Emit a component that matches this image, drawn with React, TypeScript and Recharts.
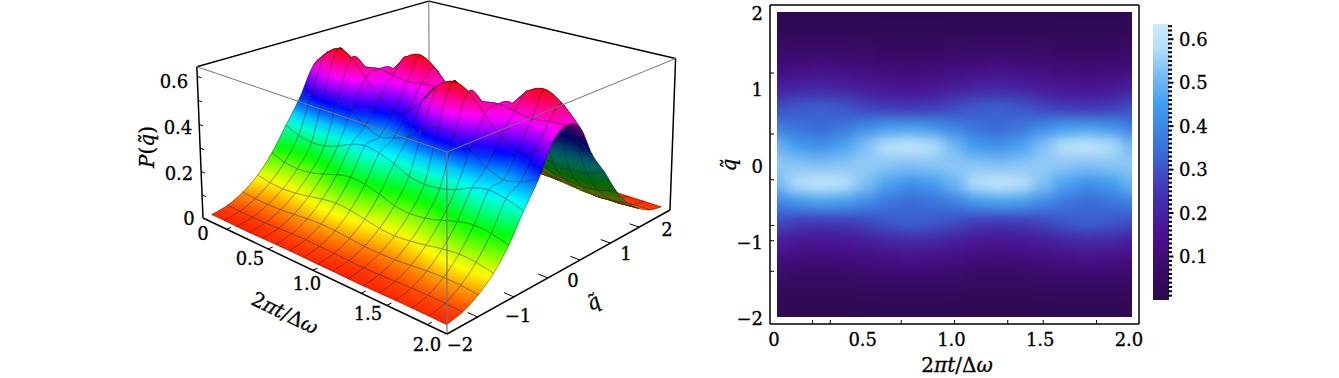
import React from 'react';
import { ScatterChart, Scatter, XAxis, YAxis, BarChart, Bar } from 'recharts';

// grid of the distribution
const tValues = [0, 0.125, 0.25, 0.375, 0.5, 0.625, 0.75, 0.875, 1, 1.125, 1.25, 1.375, 1.5, 1.625, 1.75, 1.875, 2];
const qValues = [-2, -1.75, -1.5, -1.25, -1, -0.75, -0.5, -0.25, 0, 0.25, 0.5, 0.75, 1, 1.25, 1.5, 1.75, 2];

const pQm200 = [0.014, 0.014, 0.013, 0.013, 0.014, 0.015, 0.015, 0.015, 0.014, 0.014, 0.013, 0.013, 0.014, 0.015, 0.015, 0.015, 0.014];
const pQm175 = [0.028, 0.026, 0.025, 0.026, 0.028, 0.031, 0.032, 0.031, 0.029, 0.026, 0.025, 0.026, 0.028, 0.031, 0.032, 0.031, 0.028];
const pQm150 = [0.06, 0.055, 0.053, 0.055, 0.06, 0.066, 0.069, 0.067, 0.061, 0.055, 0.053, 0.055, 0.06, 0.066, 0.069, 0.067, 0.06];
const pQm125 = [0.11, 0.1, 0.095, 0.1, 0.11, 0.122, 0.129, 0.124, 0.112, 0.1, 0.095, 0.1, 0.11, 0.122, 0.129, 0.124, 0.11];
const pQm100 = [0.185, 0.165, 0.158, 0.164, 0.18, 0.2, 0.212, 0.205, 0.188, 0.165, 0.158, 0.164, 0.18, 0.2, 0.212, 0.205, 0.186];
const pQm075 = [0.285, 0.26, 0.25, 0.256, 0.275, 0.305, 0.32, 0.31, 0.288, 0.26, 0.25, 0.256, 0.275, 0.305, 0.32, 0.31, 0.288];
const pQm050 = [0.385, 0.43, 0.455, 0.445, 0.405, 0.36, 0.335, 0.35, 0.375, 0.43, 0.455, 0.445, 0.405, 0.36, 0.335, 0.35, 0.38];
const pQm025 = [0.51, 0.58, 0.618, 0.595, 0.525, 0.46, 0.42, 0.44, 0.5, 0.58, 0.618, 0.595, 0.525, 0.46, 0.42, 0.44, 0.5];
const pQ000 = [0.54, 0.535, 0.525, 0.535, 0.545, 0.535, 0.525, 0.535, 0.54, 0.535, 0.525, 0.535, 0.545, 0.535, 0.525, 0.535, 0.54];
const pQ025 = [0.5, 0.44, 0.42, 0.46, 0.525, 0.595, 0.618, 0.58, 0.51, 0.44, 0.42, 0.46, 0.525, 0.595, 0.618, 0.58, 0.51];
const pQ050 = [0.375, 0.35, 0.335, 0.36, 0.405, 0.445, 0.455, 0.43, 0.385, 0.35, 0.335, 0.36, 0.405, 0.445, 0.455, 0.43, 0.38];
const pQ075 = [0.288, 0.31, 0.32, 0.305, 0.275, 0.256, 0.25, 0.26, 0.285, 0.31, 0.32, 0.305, 0.275, 0.256, 0.25, 0.26, 0.288];
const pQ100 = [0.188, 0.205, 0.212, 0.2, 0.18, 0.164, 0.158, 0.165, 0.185, 0.205, 0.212, 0.2, 0.18, 0.164, 0.158, 0.165, 0.186];
const pQ125 = [0.112, 0.124, 0.129, 0.122, 0.11, 0.1, 0.095, 0.1, 0.11, 0.124, 0.129, 0.122, 0.11, 0.1, 0.095, 0.1, 0.11];
const pQ150 = [0.061, 0.067, 0.069, 0.066, 0.06, 0.055, 0.053, 0.055, 0.06, 0.067, 0.069, 0.066, 0.06, 0.055, 0.053, 0.055, 0.06];
const pQ175 = [0.029, 0.031, 0.032, 0.031, 0.028, 0.026, 0.025, 0.026, 0.028, 0.031, 0.032, 0.031, 0.028, 0.026, 0.025, 0.026, 0.028];
const pQ200 = [0.014, 0.015, 0.015, 0.015, 0.014, 0.013, 0.013, 0.014, 0.014, 0.015, 0.015, 0.015, 0.014, 0.013, 0.013, 0.014, 0.014];

const pRows = [pQm200, pQm175, pQm150, pQm125, pQm100, pQm075, pQm050, pQm025, pQ000, pQ025, pQ050, pQ075, pQ100, pQ125, pQ150, pQ175, pQ200];

// axis ticks
const heatXMarks = [0.2, 0.3, 0.7, 1, 1.3, 1.5, 1.8];
const heatXLabels = [0, 0.5, 1, 1.5, 2];
const heatYMarks = [1.2, 0.4, -0.2, -0.8, -1, -1.4];
const heatYLabels = [2, 1, 0, -1, -2];
const surfaceTMarks = [0.2, 0.6, 1, 1.4, 1.6, 1.9];
const surfaceQMarks = [-1.6, -1, -0.4, 0.2, 0.8, 1.4];
const surfaceZMarks = [0.1, 0.2, 0.3, 0.4, 0.5, 0.6];
const barLabels = [0.1, 0.2, 0.3, 0.4, 0.5, 0.6];
const barMarks = Array.from({ length: 63 }, (_, i) => (i + 1) / 100);

// colour scale of the density panel
const scaleLevels = [0, 0.05, 0.15, 0.25, 0.35, 0.45, 0.52, 0.58, 0.635];
const scaleColors = ['#2b0a4e', '#350a60', '#4b1090', '#4136b4', '#3a72da', '#3f9ef0', '#7cbdf4', '#b5dff9', '#cdebfc'];

const FONT = '"DejaVu Serif", serif';
const Z_MAX = 0.64;
const PAD_T = 0.04;
const PAD_Q = 0.08;

// camera of the 3D box: corners in px and perspective weights
const FRONT = [447, 334];
const LEFT = [203, 218];
const RIGHT = [670, 210];
const TOP = [447, 152];
const PT = 0.22;
const PQ = 0.22;
const PZ = -0.03;

const boxT = (t: number) => (2 + PAD_T - t) / (2 + 2 * PAD_T);
const boxQ = (q: number) => (q + 2 + PAD_Q) / (4 + 2 * PAD_Q);
const depth = (t: number, q: number, z: number) => 1 + PT * boxT(t) + PQ * boxQ(q) + PZ * (z / Z_MAX);

const project = (t: number, q: number, z: number) => {
  const a = boxT(t);
  const b = boxQ(q);
  const c = z / Z_MAX;
  const w = depth(t, q, z);
  const axis = (k: number) =>
    FRONT[k] +
    a * (LEFT[k] * (1 + PT) - FRONT[k]) +
    b * (RIGHT[k] * (1 + PQ) - FRONT[k]) +
    c * (TOP[k] * (1 + PZ) - FRONT[k]);
  return { x: axis(0) / w, y: axis(1) / w };
};

const surfaceColor = (p: number, under: boolean) => {
  const hue = Math.min(p / 0.62, 1) * 360;
  return `hsl(${hue.toFixed(1)}, 100%, ${under ? 20 : 50}%)`;
};

const nodeAt = (i: number, j: number) => {
  const a = Math.max(0, Math.min(tValues.length - 1, i));
  const b = Math.max(0, Math.min(qValues.length - 1, j));
  const p = pRows[b][a];
  return { ...project(tValues[a], qValues[b], p), p, w: depth(tValues[a], qValues[b], p) };
};

// smooth edge between two grid nodes, same idea as a curved line series
const edge = (i: number, j: number, di: number, dj: number, ox: number, oy: number) => {
  const a = nodeAt(i, j);
  const b = nodeAt(i + di, j + dj);
  const prev = nodeAt(i - di, j - dj);
  const next = nodeAt(i + 2 * di, j + 2 * dj);
  return [a.x + (b.x - prev.x) / 6 - ox, a.y + (b.y - prev.y) / 6 - oy, b.x - (next.x - a.x) / 6 - ox, b.y - (next.y - a.y) / 6 - oy, b.x - ox, b.y - oy];
};

const buildQuads = () => {
  const quads: any[] = [];
  for (let i = 0; i < tValues.length - 1; i++) {
    for (let j = 0; j < qValues.length - 1; j++) {
      const nodes = [nodeAt(i, j), nodeAt(i + 1, j), nodeAt(i + 1, j + 1), nodeAt(i, j + 1)];
      const cx = nodes.reduce((s, n) => s + n.x, 0) / 4;
      const cy = nodes.reduce((s, n) => s + n.y, 0) / 4;
      const pc = nodes.reduce((s, n) => s + n.p, 0) / 4;
      const [n0, n1, n2, n3] = nodes;
      const area = (n2.x - n0.x) * (n3.y - n1.y) - (n2.y - n0.y) * (n3.x - n1.x);
      const under = area > 0;
      // direction in which the height colour changes on screen
      const ex1 = (n1.x + n2.x - n0.x - n3.x) / 2;
      const ey1 = (n1.y + n2.y - n0.y - n3.y) / 2;
      const ex2 = (n2.x + n3.x - n0.x - n1.x) / 2;
      const ey2 = (n2.y + n3.y - n0.y - n1.y) / 2;
      const d1 = (n1.p + n2.p - n0.p - n3.p) / 2;
      const d2 = (n2.p + n3.p - n0.p - n1.p) / 2;
      const det = ex1 * ey2 - ey1 * ex2;
      let gx = 0;
      let gy = 0;
      if (Math.abs(det) > 1e-6) {
        gx = (d1 * ey2 - d2 * ey1) / det;
        gy = (ex1 * d2 - ex2 * d1) / det;
      }
      const g2 = gx * gx + gy * gy;
      const pMin = Math.min(...nodes.map((n) => n.p));
      const pMax = Math.max(...nodes.map((n) => n.p));
      quads.push({
        x: cx,
        y: cy,
        id: `quad-${i}-${j}`,
        order: nodes.reduce((s, n) => s + n.w, 0) / 4,
        start: [n0.x - cx, n0.y - cy],
        edges: [edge(i, j, 1, 0, cx, cy), edge(i + 1, j, 0, 1, cx, cy), edge(i + 1, j + 1, -1, 0, cx, cy), edge(i, j + 1, 0, -1, cx, cy)],
        under,
        pc,
        pMin,
        pMax,
        grad:
          g2 > 1e-10
            ? [(gx / g2) * (pMin - pc), (gy / g2) * (pMin - pc), (gx / g2) * (pMax - pc), (gy / g2) * (pMax - pc)]
            : null,
      });
    }
  }
  return quads.sort((a, b) => b.order - a.order);
};

const quadData = buildQuads();

const QuadShape = (props: any) => {
  const { cx, cy, payload } = props;
  const move = `M${cx + payload.start[0]} ${cy + payload.start[1]}`;
  const curves = payload.edges
    .map((e: number[]) => `C${cx + e[0]} ${cy + e[1]} ${cx + e[2]} ${cy + e[3]} ${cx + e[4]} ${cy + e[5]}`)
    .join(' ');
  const path = `${move} ${curves} Z`;
  const stops = [0, 0.2, 0.4, 0.6, 0.8, 1];
  let fill = surfaceColor(payload.pc, payload.under);
  let defs = null;
  if (payload.grad && Math.hypot(payload.grad[2] - payload.grad[0], payload.grad[3] - payload.grad[1]) < 400) {
    fill = `url(#${payload.id})`;
    defs = (
      <linearGradient
        id={payload.id}
        gradientUnits="userSpaceOnUse"
        x1={cx + payload.grad[0]}
        y1={cy + payload.grad[1]}
        x2={cx + payload.grad[2]}
        y2={cy + payload.grad[3]}
      >
        {stops.map((s) => (
          <stop key={s} offset={s} stopColor={surfaceColor(payload.pMin + s * (payload.pMax - payload.pMin), payload.under)} />
        ))}
      </linearGradient>
    );
  }
  return (
    <g>
      {defs}
      <path d={path} fill={fill} stroke={fill} strokeWidth={0.6} />
      <path d={path} fill="none" stroke="#151515" strokeOpacity={0.62} strokeWidth={0.6} />
    </g>
  );
};

const T0 = -PAD_T;
const T1 = 2 + PAD_T;
const Q0 = -2 - PAD_Q;
const Q1 = 2 + PAD_Q;

const seg = (a: number[], b: number[]) => [project(a[0], a[1], a[2]), project(b[0], b[1], b[2])];

const backEdges = [
  { d: seg([T0, Q0, Z_MAX], [T0, Q1, Z_MAX]), c: '#000', w: 1.5 },
  { d: seg([T0, Q1, Z_MAX], [T1, Q1, Z_MAX]), c: '#000', w: 1.5 },
  { d: seg([T0, Q1, 0], [T0, Q1, Z_MAX]), c: '#777', w: 1 },
  { d: seg([T0, Q0, 0], [T0, Q0, Z_MAX]), c: '#000', w: 1.5 },
  { d: seg([T1, Q1, 0], [T1, Q1, Z_MAX]), c: '#000', w: 1.5 },
];
const frontEdges = [
  { d: seg([T0, Q0, Z_MAX], [T1, Q0, Z_MAX]), c: '#777', w: 1 },
  { d: seg([T1, Q0, Z_MAX], [T1, Q1, Z_MAX]), c: '#777', w: 1 },
  { d: seg([T1, Q0, 0], [T1, Q0, Z_MAX]), c: '#777', w: 1.2 },
  { d: seg([T0, Q0, 0], [T1, Q0, 0]), c: '#000', w: 1.5 },
  { d: seg([T1, Q0, 0], [T1, Q1, 0]), c: '#000', w: 1.5 },
];
const tickEdges = [
  ...surfaceTMarks.map((t) => seg([t, Q0, 0], [t, Q0 + 0.07, 0])),
  ...surfaceQMarks.map((q) => seg([T1, q, 0], [T1 - 0.07, q, 0])),
  ...surfaceZMarks.map((z) => seg([T0, Q0, z], [T0 + 0.04, Q0, z])),
];

const surfaceLabels = [
  { text: '0', x: 203, y: 233 },
  { text: '0.5', x: 250, y: 258 },
  { text: '1.0', x: 307, y: 283 },
  { text: '1.5', x: 368, y: 313 },
  { text: '2.0', x: 427, y: 344 },
  { text: '−2', x: 460, y: 344 },
  { text: '−1', x: 518, y: 315 },
  { text: '0', x: 573, y: 280 },
  { text: '1', x: 626, y: 253 },
  { text: '2', x: 667, y: 229 },
  { text: '0', x: 189, y: 218 },
  { text: '0.2', x: 179, y: 173 },
  { text: '0.4', x: 178, y: 127 },
  { text: '0.6', x: 174, y: 81 },
];

const TEXT_STYLE = { fontFamily: FONT, fontSize: 18, fill: '#000', stroke: '#000', strokeWidth: 0.3 };
const TITLE_STYLE = { ...TEXT_STYLE, fontSize: 20 };

const NoMark = () => null;

// x axis title, roman and italic parts like the typeset original
const TimeTitle = ({ x, y, rotate = 0 }: { x: number; y: number; rotate?: number }) => (
  <text x={x} y={y} textAnchor="middle" dominantBaseline="central" transform={`rotate(${rotate} ${x} ${y})`} {...TITLE_STYLE}>
    2<tspan fontStyle="italic">πt</tspan>/Δ<tspan fontStyle="italic">ω</tspan>
  </text>
);

const SurfacePanel = () => (
  <div style={{ position: 'absolute', left: 0, top: 0 }}>
    <ScatterChart width={700} height={378} margin={{ top: 0, right: 0, bottom: 0, left: 0 }}>
      <XAxis type="number" dataKey="x" domain={[0, 700]} hide />
      <YAxis type="number" dataKey="y" domain={[0, 378]} reversed hide />
      {backEdges.map((e, i) => (
        <Scatter key={`b${i}`} data={e.d} line={{ stroke: e.c, strokeWidth: e.w }} shape={NoMark} isAnimationActive={false} />
      ))}
      <Scatter data={quadData} shape={QuadShape} isAnimationActive={false} />
      {frontEdges.map((e, i) => (
        <Scatter key={`f${i}`} data={e.d} line={{ stroke: e.c, strokeWidth: e.w }} shape={NoMark} isAnimationActive={false} />
      ))}
      {tickEdges.map((d, i) => (
        <Scatter key={`t${i}`} data={d} line={{ stroke: '#000', strokeWidth: 1 }} shape={NoMark} isAnimationActive={false} />
      ))}
      {surfaceLabels.map((l, i) => (
        <text key={i} x={l.x} y={l.y} textAnchor="middle" dominantBaseline="central" {...TEXT_STYLE}>
          {l.text}
        </text>
      ))}
      <TimeTitle x={285} y={313} rotate={26} />
      <text x={593} y={302} textAnchor="middle" dominantBaseline="central" transform="rotate(-28 593 302)" fontStyle="italic" {...TITLE_STYLE}>
        q̃
      </text>
      <text x={147} y={147} textAnchor="middle" dominantBaseline="central" transform="rotate(-90 147 147)" {...TITLE_STYLE}>
        <tspan fontStyle="italic">P</tspan>(<tspan fontStyle="italic">q̃</tspan>)
      </text>
    </ScatterChart>
  </div>
);

const heatColor = (p: number) => {
  let i = 0;
  while (i < scaleLevels.length - 2 && p > scaleLevels[i + 1]) i++;
  const f = Math.max(0, Math.min(1, (p - scaleLevels[i]) / (scaleLevels[i + 1] - scaleLevels[i])));
  const part = (hex: string, k: number) => parseInt(hex.slice(1 + k * 2, 3 + k * 2), 16);
  const mix = [0, 1, 2].map((k) => Math.round(part(scaleColors[i], k) * (1 - f) + part(scaleColors[i + 1], k) * f));
  return `rgb(${mix.join(',')})`;
};

const heatData = pRows.flatMap((row, j) => row.map((p, i) => ({ t: tValues[i], q: qValues[j], p })));

const CELL_W = 355 / 16;
const CELL_H = 305 / 16;
const BLEED = 40;

const HeatCell = (props: any) => {
  const { cx, cy, payload } = props;
  const left = payload.t === 0 ? BLEED : 0;
  const right = payload.t === 2 ? BLEED : 0;
  const top = payload.q === 2 ? BLEED : 0;
  const bottom = payload.q === -2 ? BLEED : 0;
  return (
    <rect
      x={cx - CELL_W / 2 - left - 0.5}
      y={cy - CELL_H / 2 - top - 0.5}
      width={CELL_W + left + right + 1}
      height={CELL_H + top + bottom + 1}
      fill={heatColor(payload.p)}
    />
  );
};

const markSize = 4;

const xTick = (dir: number, withLabels: boolean) => (props: any) => {
  const { x, y, payload } = props;
  const v = payload.value;
  return (
    <g>
      {heatXMarks.includes(v) && <line x1={x} x2={x} y1={y} y2={y + dir * markSize} stroke="#000" strokeWidth={1} />}
      {withLabels && heatXLabels.includes(v) && (
        <text x={x - 3} y={y + 15} textAnchor="middle" dominantBaseline="central" {...TEXT_STYLE}>
          {v === 0 ? '0' : v.toFixed(1)}
        </text>
      )}
    </g>
  );
};

const yTick = (dir: number, withLabels: boolean) => (props: any) => {
  const { x, y, payload } = props;
  const v = payload.value;
  return (
    <g>
      {heatYMarks.includes(v) && <line x1={x} x2={x + dir * markSize} y1={y} y2={y} stroke="#000" strokeWidth={1} />}
      {withLabels && heatYLabels.includes(v) && (
        <text x={x - 7} y={y + 1.5} textAnchor="end" dominantBaseline="central" {...TEXT_STYLE}>
          {v < 0 ? `−${-v}` : v}
        </text>
      )}
    </g>
  );
};

const xDomain = [-7 / 177.5, 2 + 7 / 177.5];
const yDomain = [-2 - 7 / 76.25, 2 + 7 / 76.25];
const allXTicks = [...new Set([...heatXLabels, ...heatXMarks])];
const allYTicks = [...new Set([...heatYLabels, ...heatYMarks])];
const frameLine = { stroke: '#000', strokeWidth: 1.5 };

const HeatPanel = () => (
  <div style={{ position: 'absolute', left: 700, top: 0 }}>
    <style>{`.heat-cells { filter: url(#heatBlur); clip-path: url(#heatClip); }`}</style>
    <ScatterChart width={460} height={378} margin={{ top: 0, right: 0, bottom: 0, left: 0 }}>
      <defs>
        <filter id="heatBlur" filterUnits="userSpaceOnUse" x={-100} y={-100} width={700} height={600} colorInterpolationFilters="sRGB">
          <feGaussianBlur stdDeviation={7} />
        </filter>
        <clipPath id="heatClip" clipPathUnits="userSpaceOnUse">
          <rect x={77} y={12} width={355} height={305} />
        </clipPath>
      </defs>
      <XAxis type="number" dataKey="t" domain={xDomain} ticks={allXTicks} interval={0} height={54} tickSize={0} tickMargin={0} tickLine={false} axisLine={frameLine} tick={xTick(-1, true)} />
      <XAxis xAxisId="top" orientation="top" type="number" domain={xDomain} ticks={heatXMarks} interval={0} height={5} tickSize={0} tickMargin={0} tickLine={false} axisLine={frameLine} tick={xTick(1, false)} />
      <YAxis type="number" dataKey="q" domain={yDomain} ticks={allYTicks} interval={0} width={70} tickSize={0} tickMargin={0} tickLine={false} axisLine={frameLine} tick={yTick(1, true)} />
      <YAxis yAxisId="right" orientation="right" type="number" domain={yDomain} ticks={heatYMarks} interval={0} width={21} tickSize={0} tickMargin={0} tickLine={false} axisLine={frameLine} tick={yTick(-1, false)} />
      <Scatter className="heat-cells" data={heatData} shape={HeatCell} isAnimationActive={false} />
      <TimeTitle x={257} y={365} />
      <text x={29} y={165} textAnchor="middle" dominantBaseline="central" transform="rotate(-90 29 165)" fontStyle="italic" {...TITLE_STYLE}>
        q̃
      </text>
    </ScatterChart>
  </div>
);

const barTick = (props: any) => {
  const { x, y, payload } = props;
  const v = Math.round(payload.value * 100) / 100;
  const major = barLabels.includes(v);
  return (
    <g>
      <rect x={x - 1} y={y - 1} width={major ? 5.5 : 4} height={2} fill="#000" />
      {major && (
        <text x={x + 10} y={y} textAnchor="start" dominantBaseline="central" {...TEXT_STYLE}>
          {v.toFixed(1)}
        </text>
      )}
    </g>
  );
};

const colorBarData = [{ name: 'P', level: 0.635 }];

const ColorBar = () => (
  <div style={{ position: 'absolute', left: 1140, top: 0 }}>
    <BarChart width={199} height={378} data={colorBarData} margin={{ top: 24, right: 0, bottom: 78, left: 13 }} barCategoryGap={0}>
      <defs>
        <linearGradient id="scaleFill" x1="0" y1="1" x2="0" y2="0">
          {scaleLevels.map((l, i) => (
            <stop key={l} offset={l / 0.635} stopColor={scaleColors[i]} />
          ))}
        </linearGradient>
      </defs>
      <XAxis dataKey="name" hide />
      <YAxis orientation="right" type="number" domain={[0, 0.635]} ticks={barMarks} interval={0} width={170} tickSize={0} tickMargin={0} tickLine={false} axisLine={false} tick={barTick} />
      <Bar dataKey="level" fill="url(#scaleFill)" isAnimationActive={false} />
    </BarChart>
  </div>
);

export default function App() {
  return (
    <div style={{ position: 'absolute', left: 0, top: 0, width: 1339, height: 378, background: '#fff' }}>
      <SurfacePanel />
      <HeatPanel />
      <ColorBar />
    </div>
  );
}
